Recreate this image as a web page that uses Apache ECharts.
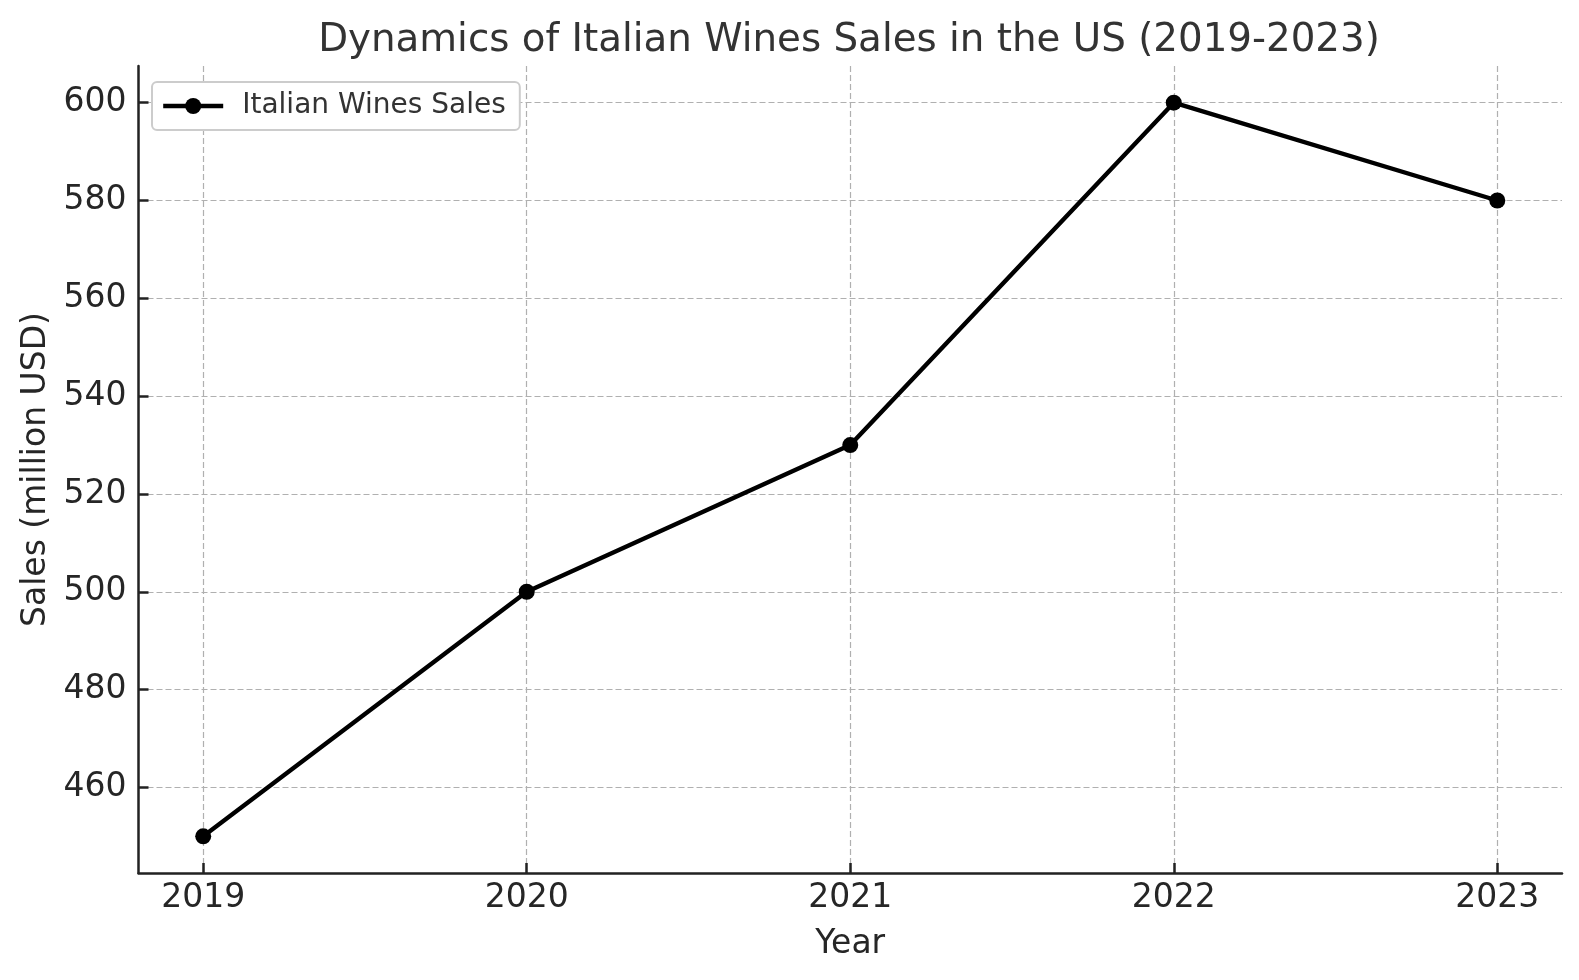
<!DOCTYPE html>
<html>
<head>
<meta charset="utf-8">
<script src="https://cdn.jsdelivr.net/npm/echarts@6/dist/echarts.min.js"></script>
<style>
html,body{margin:0;padding:0;background:#fff;}
#chart{width:1579px;height:980px;}
</style>
</head>
<body>
<div id="chart"></div>
<script>
const years = [2019, 2020, 2021, 2022, 2023];
const sales = [450, 500, 530, 600, 580];
const yTicks = [460, 480, 500, 520, 540, 560, 580, 600];
const seriesName = 'Italian Wines Sales';
const titleText = 'Dynamics of Italian Wines Sales in the US (2019-2023)';

const FONT = 'DejaVu Sans';
const chart = echarts.init(document.getElementById('chart'), null, {renderer: 'canvas'});
const points = years.map((y, i) => [y, sales[i]]);

const gridLine = {show: true, lineStyle: {color: '#b0b0b0', width: 1.2, type: [6, 3]}};

chart.setOption({
  backgroundColor: '#ffffff',
  animation: false,
  title: {
    text: titleText,
    left: 844, top: 16, textAlign: 'center',
    textStyle: {fontFamily: FONT, fontSize: 38.8, fontWeight: 'normal', color: '#333333'}
  },
  legend: {
    data: [seriesName],
    left: 152, top: 82,
    orient: 'vertical',
    backgroundColor: '#ffffff',
    borderColor: '#cccccc', borderWidth: 2, borderRadius: 5,
    padding: [9, 14, 9, 9],
    itemWidth: 60, itemHeight: 20,
    lineStyle: {width: 4.4, color: '#000000'},
    itemStyle: {color: '#000000'},
    textStyle: {fontFamily: FONT, fontSize: 28, color: '#333333', padding: [0, 0, 0, 14], lineHeight: 30}
  },
  grid: {left: 138.5, right: 17, top: 66, bottom: 107, containLabel: false},
  xAxis: {
    type: 'value',
    min: 2018.8, max: 2023.2,
    name: 'Year', nameLocation: 'middle', nameGap: 55,
    nameTextStyle: {fontFamily: FONT, fontSize: 33, color: '#262626'},
    axisLine: {show: true, onZero: false, lineStyle: {color: '#222222', width: 2.5}},
    axisTick: {show: true, inside: true, length: 10, customValues: years, lineStyle: {color: '#222222', width: 2.5}},
    axisLabel: {customValues: years, margin: 9, fontFamily: FONT, fontSize: 33, color: '#262626',
      formatter: v => String(Math.round(v))},
    splitLine: gridLine
  },
  yAxis: {
    type: 'value',
    min: 442.5, max: 607.5,
    name: 'Sales (million USD)', nameLocation: 'middle', nameGap: 86, nameRotate: 90,
    nameTextStyle: {fontFamily: FONT, fontSize: 33, color: '#262626'},
    axisLine: {show: true, onZero: false, lineStyle: {color: '#222222', width: 2.5}},
    axisTick: {show: true, inside: true, length: 10, customValues: yTicks, lineStyle: {color: '#222222', width: 2.5}},
    axisLabel: {customValues: yTicks, margin: 12, fontFamily: FONT, fontSize: 33, color: '#262626',
      formatter: v => String(Math.round(v))},
    splitLine: gridLine
  },
  series: [{
    name: seriesName,
    type: 'line',
    data: points,
    symbol: 'circle', symbolSize: 16,
    itemStyle: {color: '#000000'},
    lineStyle: {color: '#000000', width: 4.4},
    z: 5
  }]
});
</script>
</body>
</html>
